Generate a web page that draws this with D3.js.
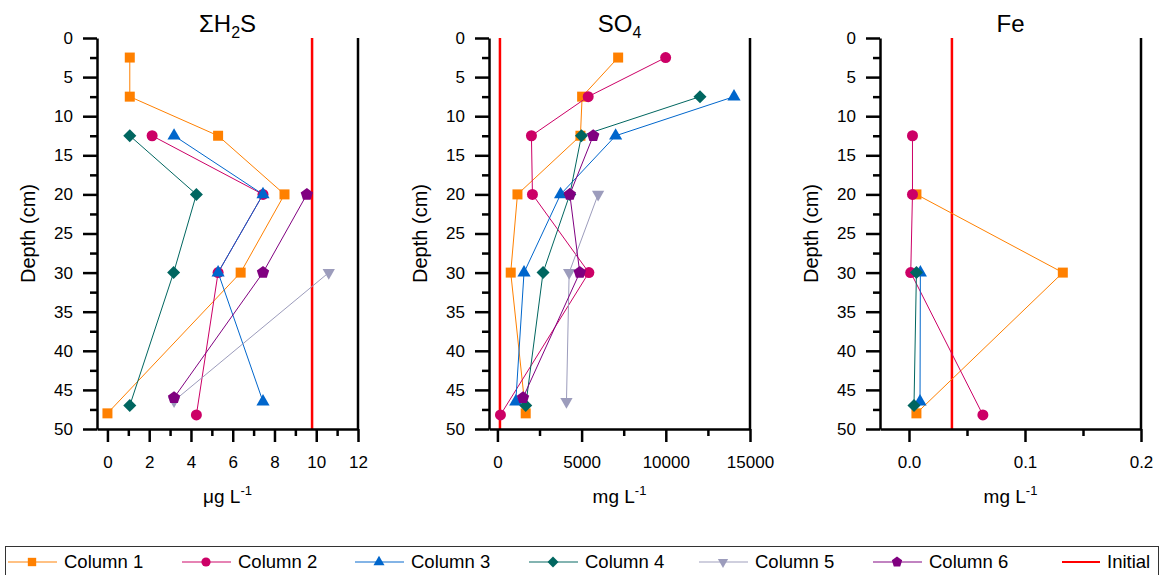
<!DOCTYPE html>
<html>
<head>
<meta charset="utf-8">
<script src="https://cdn.jsdelivr.net/npm/d3@7"></script>
<style>
  body { margin: 0; background: #fff; }
  svg { display: block; font-family: Arial, "Liberation Sans", sans-serif; }
</style>
</head>
<body>
<div id="chart"></div>
<script>
// Series names and styles
const columns = ["Column 1", "Column 2", "Column 3", "Column 4", "Column 5", "Column 6"];
const colors = ["#ff8000", "#cc0066", "#0066cc", "#006660", "#9c9cbc", "#800080"];

// [value, depth] per column, one array per panel
const h2sSeries = [
  [[1.07, 2.5], [1.07, 7.5], [5.3, 12.5], [8.48, 20], [6.38, 30], [0, 48]],
  [[2.14, 12.5], [7.45, 20], [5.3, 30], [4.26, 48.2]],
  [[3.19, 12.5], [7.45, 20], [5.3, 30], [7.45, 46.5]],
  [[1.07, 12.5], [4.26, 20], [3.17, 30], [1.07, 47]],
  [[10.6, 30], [3.19, 46.4]],
  [[9.55, 20], [7.45, 30], [3.19, 46]]
];
const so4Series = [
  [[7170, 2.5], [5030, 7.5], [4930, 12.5], [1190, 20], [790, 30], [1680, 48]],
  [[9990, 2.5], [5390, 7.5], [2020, 12.5], [2080, 20], [5430, 30], [180, 48.2]],
  [[14050, 7.5], [7020, 12.5], [3750, 20], [1580, 30], [1090, 46.5]],
  [[12030, 7.5], [4990, 12.5], [4300, 20], [2710, 30], [1680, 47]],
  [[5980, 20], [4260, 30], [4100, 46.5]],
  [[5690, 12.5], [4300, 20], [4890, 30], [1520, 46]]
];
const feSeries = [
  [[0.0064, 20], [0.1326, 30], [0.0064, 48]],
  [[0.003, 12.5], [0.003, 20], [0.0015, 30], [0.0637, 48.2]],
  [[0.0098, 30], [0.0095, 46.5]],
  [[0.0064, 30], [0.0043, 47]],
  [],
  []
];

// Initial concentrations (red lines)
const initialValues = [9.8, 150, 0.037];

// Axis setup per panel
const units = ["μg L", "mg L", "mg L"];
const xDomains = [[-0.5, 12], [-500, 15000], [-0.025, 0.2]];
const xMajorTicks = [[0, 2, 4, 6, 8, 10, 12], [0, 5000, 10000, 15000], [0, 0.1, 0.2]];
const xMinorTicks = [[1, 3, 5, 7, 9, 11], [2500, 7500, 12500], [0.05, 0.15]];
const xFormats = [d3.format("d"), d3.format("d"), d3.format(".1f")];
const depthMajor = [0, 5, 10, 15, 20, 25, 30, 35, 40, 45, 50];
const depthMinor = [2.5, 7.5, 12.5, 17.5, 22.5, 27.5, 32.5, 37.5, 42.5, 47.5];

const width = 1162;
const height = 575;
const panelLeft = [97, 489, 880];
const panelWidth = 261;
const plotTop = 38;
const plotBottom = 429;

const svg = d3.select("#chart")
  .append("svg")
  .attr("width", width)
  .attr("height", height);

// pentagon marker
const symbolPentagon = {
  draw(context, size) {
    const r = Math.sqrt(size / 2.3776);
    for (let i = 0; i < 5; i++) {
      const a = -Math.PI / 2 + i * 2 * Math.PI / 5;
      const x = r * Math.cos(a), y = r * Math.sin(a);
      if (i === 0) context.moveTo(x, y); else context.lineTo(x, y);
    }
    context.closePath();
  }
};

const markers = [
  { type: d3.symbolSquare, size: 100, rotate: 0 },
  { type: d3.symbolCircle, size: 95, rotate: 0 },
  { type: d3.symbolTriangle, size: 75, rotate: 0 },
  { type: d3.symbolSquare, size: 85, rotate: 45 },
  { type: d3.symbolTriangle, size: 65, rotate: 180 },
  { type: symbolPentagon, size: 100, rotate: 0 }
];

const yScale = d3.scaleLinear()
  .domain([0, 50])
  .range([plotTop, plotBottom]);

const allSeries = [h2sSeries, so4Series, feSeries];

allSeries.forEach((series, p) => {
  const x0 = panelLeft[p];
  const xScale = d3.scaleLinear()
    .domain(xDomains[p])
    .range([x0, x0 + panelWidth]);

  const g = svg.append("g");

  // Initial line
  g.append("line")
    .attr("x1", xScale(initialValues[p]))
    .attr("x2", xScale(initialValues[p]))
    .attr("y1", plotTop)
    .attr("y2", plotBottom)
    .attr("stroke", "#ff0000")
    .attr("stroke-width", 2.5);

  // right border
  g.append("line")
    .attr("x1", x0 + panelWidth)
    .attr("x2", x0 + panelWidth)
    .attr("y1", plotTop)
    .attr("y2", plotBottom)
    .attr("stroke", "black")
    .attr("stroke-width", 2.5);

  // minor ticks
  g.append("g")
    .attr("transform", `translate(${x0},0)`)
    .call(d3.axisLeft(yScale).tickValues(depthMinor).tickSize(7).tickFormat("").tickSizeOuter(0))
    .call(a => a.select(".domain").remove());
  g.append("g")
    .attr("transform", `translate(0,${plotBottom})`)
    .call(d3.axisBottom(xScale).tickValues(xMinorTicks[p]).tickSize(7).tickFormat("").tickSizeOuter(0))
    .call(a => a.select(".domain").remove());

  // major axes
  const yAxis = g.append("g")
    .attr("transform", `translate(${x0},0)`)
    .call(d3.axisLeft(yScale).tickValues(depthMajor).tickSize(14).tickPadding(10).tickSizeOuter(0));
  const xAxis = g.append("g")
    .attr("transform", `translate(0,${plotBottom})`)
    .call(d3.axisBottom(xScale).tickValues(xMajorTicks[p]).tickFormat(xFormats[p]).tickSize(13).tickPadding(14).tickSizeOuter(0));

  g.selectAll(".tick line, .domain")
    .attr("stroke", "black")
    .attr("stroke-width", 2.5);
  [yAxis, xAxis].forEach(a => a.selectAll("text")
    .attr("fill", "black")
    .style("font-size", "17px")
    .style("font-family", "Arial, 'Liberation Sans', sans-serif"));

  // series
  series.forEach((pts, i) => {
    if (pts.length === 0) return;
    const line = d3.line()
      .x(d => xScale(d[0]))
      .y(d => yScale(d[1]));
    g.append("path")
      .datum(pts)
      .attr("fill", "none")
      .attr("stroke", colors[i])
      .attr("stroke-width", 1)
      .attr("d", line);
    const m = markers[i];
    g.selectAll(null)
      .data(pts)
      .enter()
      .append("path")
        .attr("transform", d => `translate(${xScale(d[0])},${yScale(d[1])}) rotate(${m.rotate})`)
        .attr("d", d3.symbol().type(m.type).size(m.size))
        .attr("fill", colors[i]);
  });

  // title
  const cx = x0 + panelWidth / 2;
  const title = svg.append("text")
    .attr("x", cx)
    .attr("y", 32)
    .attr("text-anchor", "middle")
    .style("font-size", "24px");
  if (p === 0) {
    title.append("tspan").text("ΣH");
    title.append("tspan").attr("dy", 6).style("font-size", "16px").text("2");
    title.append("tspan").attr("dy", -6).text("S");
  } else if (p === 1) {
    title.append("tspan").text("SO");
    title.append("tspan").attr("dy", 6).style("font-size", "16px").text("4");
  } else {
    title.text("Fe");
  }

  // x label
  const xl = svg.append("text")
    .attr("x", cx)
    .attr("y", 503)
    .attr("text-anchor", "middle")
    .style("font-size", "19px");
  xl.append("tspan").text(units[p]);
  xl.append("tspan").attr("dy", -8).style("font-size", "13px").text("-1");

  // y label
  svg.append("text")
    .attr("transform", `translate(${x0 - 62},${(plotTop + plotBottom) / 2}) rotate(-90)`)
    .attr("text-anchor", "middle")
    .style("font-size", "20px")
    .text("Depth (cm)");
});

// Legend
const legend = svg.append("g");
legend.append("rect")
  .attr("x", 5.5)
  .attr("y", 546.5)
  .attr("width", 1153)
  .attr("height", 40)
  .attr("fill", "none")
  .attr("stroke", "#333")
  .attr("stroke-width", 1);

const legendTextX = [64, 238, 411, 585, 755, 929];
const legendY = 562;
columns.forEach((name, i) => {
  const tx = legendTextX[i];
  legend.append("line")
    .attr("x1", tx - 56)
    .attr("x2", tx - 7)
    .attr("y1", legendY)
    .attr("y2", legendY)
    .attr("stroke", colors[i])
    .attr("stroke-opacity", 0.65)
    .attr("stroke-width", 1.5);
  const m = markers[i];
  legend.append("path")
    .attr("transform", `translate(${tx - 32},${legendY}) rotate(${m.rotate})`)
    .attr("d", d3.symbol().type(m.type).size(m.size * 0.7))
    .attr("fill", colors[i]);
  legend.append("text")
    .attr("x", tx)
    .attr("y", legendY)
    .attr("dy", "0.35em")
    .style("font-size", "18.5px")
    .text(name);
});
legend.append("line")
  .attr("x1", 1062)
  .attr("x2", 1100)
  .attr("y1", legendY)
  .attr("y2", legendY)
  .attr("stroke", "#ff0000")
  .attr("stroke-width", 2);
legend.append("text")
  .attr("x", 1107)
  .attr("y", legendY)
  .attr("dy", "0.35em")
  .style("font-size", "18.5px")
  .text("Initial");
</script>
</body>
</html>
